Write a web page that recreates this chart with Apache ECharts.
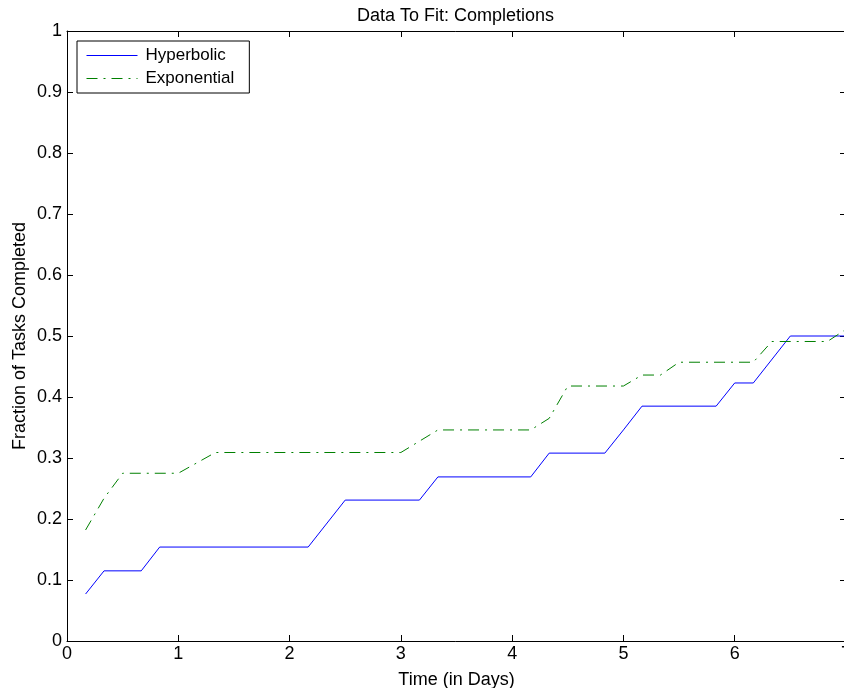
<!DOCTYPE html>
<html>
<head>
<meta charset="utf-8">
<title>Data To Fit: Completions</title>
<script src="https://cdn.jsdelivr.net/npm/echarts@6/dist/echarts.min.js"></script>
<style>
  html, body { margin: 0; padding: 0; background: #fff; }
  #chart { width: 844px; height: 688px; }
</style>
</head>
<body>
<div id="chart"></div>
<script>
// time in days, fraction of tasks completed
const hypT = [0.167, 0.333, 0.667, 0.833, 2.167, 2.5, 3.167, 3.333, 4.167, 4.333, 4.833, 5.0, 5.167, 5.833, 6.0, 6.167, 6.5, 7.0];
const hypY = [0.077, 0.115, 0.115, 0.154, 0.154, 0.231, 0.231, 0.269, 0.269, 0.308, 0.308, 0.346, 0.385, 0.385, 0.423, 0.423, 0.5, 0.5];
const expT = [0.167, 0.333, 0.5, 1.0, 1.333, 3.0, 3.333, 4.167, 4.333, 4.5, 5.0, 5.167, 5.333, 5.5, 6.167, 6.333, 6.833, 7.0];
const expY = [0.182, 0.234, 0.275, 0.275, 0.309, 0.309, 0.346, 0.346, 0.365, 0.418, 0.418, 0.436, 0.436, 0.457, 0.457, 0.491, 0.491, 0.511];

const xTicks = { min: 0, max: 7, interval: 1 };
const yTicks = { min: 0, max: 1, interval: 0.1 };

const font = 'Liberation Sans, Arial, Helvetica, sans-serif';
const hypColor = '#0000ff';
const expColor = '#008000';
const expDash = [11, 6, 2, 6];
const pairs = (xs, ys) => xs.map((x, i) => [x, ys[i]]);

const tick = { show: true, inside: true, length: 6, lineStyle: { color: '#000', width: 1 } };
const line = { show: true, onZero: false, lineStyle: { color: '#000', width: 1 } };

const chart = echarts.init(document.getElementById('chart'), null, { renderer: 'canvas' });
chart.setOption({
  animation: false,
  backgroundColor: '#fff',
  textStyle: { fontFamily: font, color: '#000' },
  title: {
    text: 'Data To Fit: Completions',
    left: 357,
    top: 7,
    padding: 0,
    textStyle: { fontFamily: font, fontSize: 18, fontWeight: 'normal', color: '#000' },
  },
  legend: {
    orient: 'vertical',
    left: 77,
    top: 41,
    padding: [6, 15, 6, 9],
    itemWidth: 51,
    itemHeight: 14,
    itemGap: 6,
    borderColor: '#000',
    borderWidth: 1,
    borderRadius: 0,
    backgroundColor: '#fff',
    itemStyle: { color: 'transparent', borderWidth: 0, opacity: 0 },
    textStyle: { fontFamily: font, fontSize: 17, color: '#000', padding: [0, 0, 0, 3] },
    data: [
      { name: 'Hyperbolic', lineStyle: { color: hypColor, width: 1, type: 'solid' } },
      { name: 'Exponential', lineStyle: { color: expColor, width: 1, type: expDash } },
    ],
  },
  grid: { left: 67, top: 31, width: 779, height: 610, containLabel: false, outerBoundsMode: 'none' },
  xAxis: [
    {
      type: 'value', position: 'bottom', ...xTicks,
      name: 'Time (in Days)', nameLocation: 'middle', nameGap: 30,
      nameTextStyle: { fontFamily: font, fontSize: 18, color: '#000' },
      axisLine: line, axisTick: tick, splitLine: { show: false },
      axisLabel: { fontFamily: font, fontSize: 18, color: '#000', margin: 4, showMaxLabel: true },
    },
    {
      type: 'value', position: 'top', ...xTicks,
      axisLine: line, axisTick: tick, splitLine: { show: false }, axisLabel: { show: false },
    },
  ],
  yAxis: [
    {
      type: 'value', position: 'left', ...yTicks,
      name: 'Fraction of Tasks Completed', nameLocation: 'middle', nameGap: 38, nameMoveOverlap: false,
      nameTextStyle: { fontFamily: font, fontSize: 18, color: '#000' },
      axisLine: line, axisTick: tick, splitLine: { show: false },
      axisLabel: { fontFamily: font, fontSize: 18, color: '#000', margin: 5 },
    },
    {
      type: 'value', position: 'right', ...yTicks,
      axisLine: line, axisTick: tick, splitLine: { show: false }, axisLabel: { show: false },
    },
  ],
  series: [
    {
      name: 'Hyperbolic',
      type: 'line',
      data: pairs(hypT, hypY),
      symbol: 'none',
      color: hypColor,
      lineStyle: { color: hypColor, width: 1 },
    },
    {
      name: 'Exponential',
      type: 'line',
      data: pairs(expT, expY),
      symbol: 'none',
      color: expColor,
      lineStyle: { color: expColor, width: 1, type: expDash },
    },
  ],
});
</script>
</body>
</html>
